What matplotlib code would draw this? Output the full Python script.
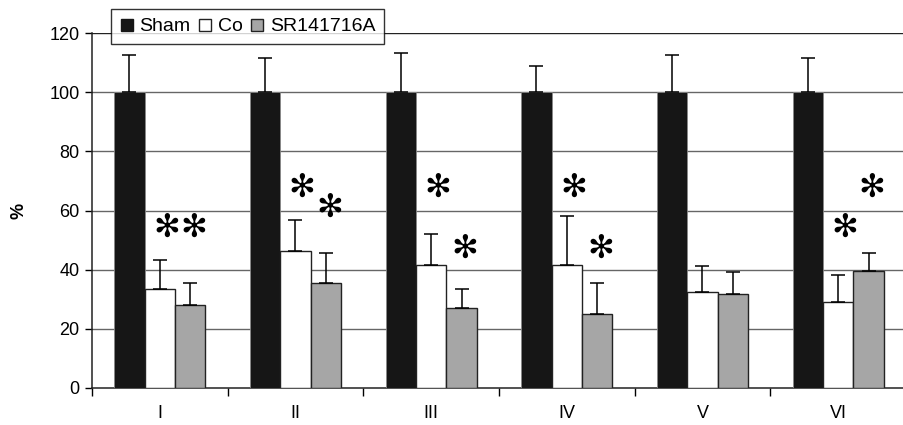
import numpy as np
import matplotlib
matplotlib.use('Agg')
import matplotlib.pyplot as plt
from matplotlib.lines import Line2D

# ---------------- data ----------------
categories = ['I', 'II', 'III', 'IV', 'V', 'VI']
sham = [100, 100, 100, 100, 100, 100]
sham_err = [12.5, 11.4, 13.4, 9.0, 12.5, 11.4]
co = [33.4, 46.3, 41.7, 41.7, 32.4, 29.2]
co_err = [9.8, 10.5, 10.3, 16.3, 8.8, 8.9]
sr = [28.2, 35.5, 27.2, 25.1, 31.8, 39.6]
sr_err = [7.3, 10.3, 6.2, 10.4, 7.3, 6.2]
# significance stars: group index -> y position
stars_co = {0: 54, 1: 67.4, 2: 67.4, 3: 67.4, 5: 54}
stars_sr = {0: 54, 1: 60.6, 2: 46.9, 3: 46.9, 5: 67.4}

plt.rcParams['font.family'] = ['Liberation Sans', 'DejaVu Sans']

fig = plt.figure(figsize=(9.04, 4.25), dpi=100)
ax = fig.add_axes([92 / 904, 1 - 388 / 425, 814 / 904, (388 - 33) / 425])

x = np.arange(len(categories))
w = 0.224
ekw = dict(ecolor='black', elinewidth=1.1, capsize=5, capthick=1.1)
lo = [0] * len(categories)
ax.bar(x - w, sham, w, color='#161616', edgecolor='#888888', linewidth=0.6,
       yerr=[lo, sham_err], error_kw=ekw, zorder=3)
ax.bar(x, co, w, color='white', edgecolor='#222222', linewidth=1.0,
       yerr=[lo, co_err], error_kw=ekw, zorder=3)
ax.bar(x + w, sr, w, color='#a6a6a6', edgecolor='#222222', linewidth=1.0,
       yerr=[lo, sr_err], error_kw=ekw, zorder=3)

for i, y in stars_co.items():
    ax.text(i + 0.05, y, '\u273b', ha='center', va='center', fontsize=23,
            family='DejaVu Sans', zorder=4)
for i, y in stars_sr.items():
    ax.text(i + 0.25, y, '\u273b', ha='center', va='center', fontsize=23,
            family='DejaVu Sans', zorder=4)

ax.set_xlim(-0.5, 5.5)
ax.set_ylim(0, 120)
ax.set_yticks(range(0, 121, 20))
ax.set_xticks(np.arange(-0.5, 6, 1.0))
ax.set_xticklabels([])
ax.set_xticks(x, minor=True)
ax.set_xticklabels(categories, minor=True)
ax.tick_params(axis='x', which='minor', length=0, pad=12, labelsize=13)
ax.tick_params(axis='x', which='major', length=6, direction='out', width=1)
ax.tick_params(axis='y', length=5, width=1, labelsize=13, pad=4)

for y in range(20, 121, 20):
    ax.axhline(y, color='#666666' if y < 120 else '#222222', linewidth=1.0, zorder=1)

for s in ['top', 'right']:
    ax.spines[s].set_visible(False)
for s in ['left', 'bottom']:
    ax.spines[s].set_linewidth(1.1)
    ax.spines[s].set_color('#222222')

ax.set_ylabel('%', fontsize=13, fontweight='bold', labelpad=16)

handles = [
    Line2D([], [], marker='s', linestyle='none', markersize=9,
           markerfacecolor='#161616', markeredgecolor='#161616'),
    Line2D([], [], marker='s', linestyle='none', markersize=9,
           markerfacecolor='white', markeredgecolor='#222222'),
    Line2D([], [], marker='s', linestyle='none', markersize=9,
           markerfacecolor='#a6a6a6', markeredgecolor='#222222'),
]
leg = fig.legend(handles, ['Sham', 'Co', 'SR141716A'], loc='upper left',
                 bbox_to_anchor=(111 / 904, 1 - 9 / 425), ncol=3,
                 frameon=True, fancybox=False, edgecolor='black',
                 handlelength=0.7, handletextpad=0.3, columnspacing=0.4,
                 borderpad=0.45, borderaxespad=0, fontsize=14)
leg.get_frame().set_linewidth(1.0)
leg.set_zorder(10)

fig.savefig('out.png', dpi=100)
